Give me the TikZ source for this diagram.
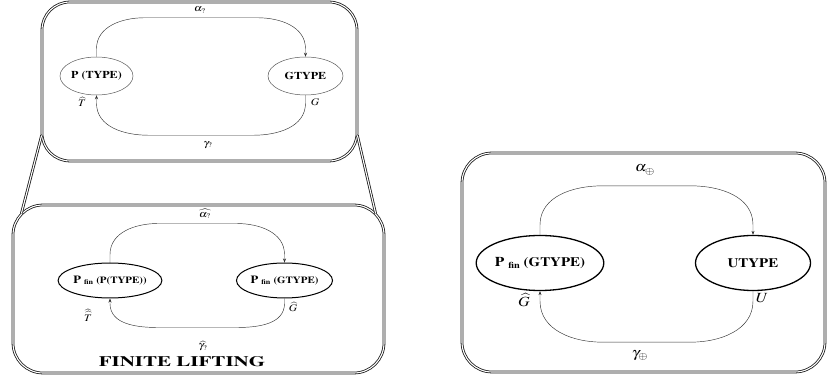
\documentclass[tikz,border=0pt]{standalone}
\usepackage[T1]{fontenc}
\usepackage{mathptmx}
\usepackage{graphicx}
\usetikzlibrary{arrows.meta,shapes.geometric,calc}
\newcommand{\hs}[2][1.15]{\scalebox{#1}[1]{#2}}
\newcommand{\fs}[1]{\fontsize{#1}{#1}\selectfont}
\begin{document}
\begin{tikzpicture}[x=1pt,y=1pt,
  framebox/.style={draw=black!90, double=white, double distance=1.1pt, line width=0.8pt, rounded corners=#1, inner sep=0pt},
  framebox/.default=28pt,
  link/.style={draw=black!90, double=white, double distance=1.1pt, line width=0.8pt},
  stA/.style={ellipse, draw=black!65, line width=0.5pt, inner sep=0pt},
  stB/.style={ellipse, draw=black, line width=1pt, inner sep=0pt},
  stC/.style={ellipse, draw=black, line width=1.3pt, inner sep=0pt},
  conn/.style={draw=black!80, line width=0.45pt, -{Stealth[length=4pt,width=3pt]}},
  lbl/.style={inner sep=0pt}
]
\useasboundingbox (0,0) rectangle (827,377);

% frames
\node[framebox, minimum width=315pt, minimum height=159pt] (topbox) at (199.5,295.5) {};
\node[framebox=30pt, minimum width=371pt, minimum height=168pt] (botbox) at (198.5,88) {};
\node[framebox=30pt, minimum width=363pt, minimum height=219pt] (rbox) at (643.5,114.5) {};

\coordinate (tl) at ($(topbox.south west)+(0,26)$);
\coordinate (tr) at ($(topbox.south east)+(0,26)$);
\coordinate (bl) at ($(botbox.north west)+(8.8,-8.8)$);
\coordinate (br) at ($(botbox.north east)+(-8.8,-8.8)$);
\draw[link] (tl) -- (bl);
\draw[link] (tr) -- (br);

% top box
\node[stA, minimum width=73pt, minimum height=38pt] (pt) at (96.5,301) {\hs{\fs{10.5}\bfseries P (TYPE)}};
\node[stA, minimum width=75pt, minimum height=38pt] (gt) at (305.5,301) {\hs{\fs{10.5}\bfseries GTYPE}};
\draw[conn] (pt.north) -- ++(0,8) to[out=90,in=180] ($(pt.north)+(48,39)$)
  -- ($(gt.north)+(-48,39)$) to[out=0,in=90] ($(gt.north)+(0,8)$) -- (gt.north);
\draw[conn] (gt.south) -- ++(0,-8) to[out=-90,in=0] ($(gt.south)+(-52,-40)$)
  -- ($(pt.south)+(52,-40)$) to[out=180,in=-90] ($(pt.south)+(0,-8)$) -- (pt.south);
\node[lbl] (a1) at (200,367) {\hs{\fs{10}$\alpha_?$}};
\node[lbl] (g1) at (208,232) {\hs{\fs{10}$\gamma_?$}};
\node[lbl] (t1) at (82,275) {\hs{\fs{10}$\widehat{T}$}};
\node[lbl] (gg1) at (315,275) {\hs{\fs{10}$G$}};

% bottom-left box
\node[stB, minimum width=96pt, minimum height=35pt] (pfp) at (110,96.5)
  {\hs{\bfseries\fs{11}P \raisebox{-1.5pt}{\fs{7}fin} \fs{9.5}(P(TYPE))}};
\node[stB, minimum width=95pt, minimum height=35pt] (pfg) at (284.5,96.5)
  {\hs{\bfseries\fs{11}P \raisebox{-1.5pt}{\fs{7}fin} \fs{9.5}(GTYPE)}};
\draw[conn] (pfp.north) -- ++(0,8) to[out=90,in=180] ($(pfp.north)+(48,39)$)
  -- ($(pfg.north)+(-48,39)$) to[out=0,in=90] ($(pfg.north)+(0,8)$) -- (pfg.north);
\draw[conn] (pfg.south) -- ++(0,-5) to[out=-90,in=0] ($(pfg.south)+(-48,-29)$)
  -- ($(pfp.south)+(48,-29)$) to[out=180,in=-90] ($(pfp.south)+(0,-5)$) -- (pfp.south);
\node[lbl] (a2) at (205,163) {\hs{\fs{10}$\widehat{\alpha_?}$}};
\node[lbl] (g2) at (203,31) {\hs{\fs{10}$\widehat{\gamma_?}$}};
\node[lbl] (t2) at (88,62) {\hs{\fs{10}$\widehat{\widehat{T}}$}};
\node[lbl] (gg2) at (293,70) {\hs{\fs{10}$\widehat{G}$}};
\node[lbl] (fl) at (182,15) {\hs[1.45]{\fs{14.5}\bfseries FINITE LIFTING}};

% right box
\node[stC, minimum width=112pt, minimum height=55pt] (pg) at (540,114)
  {\hs{\bfseries\fs{13.5}P \raisebox{-2pt}{\fs{9}fin} \fs{13}(GTYPE)}};
\node[stC, minimum width=115pt, minimum height=55pt] (ut) at (753,114)
  {\hs{\bfseries\fs{13}UTYPE}};
\draw[conn] (pg.north) -- ++(0,10) to[out=90,in=180] ($(pg.north)+(62,49)$)
  -- ($(ut.north)+(-62,49)$) to[out=0,in=90] ($(ut.north)+(0,10)$) -- (ut.north);
\draw[conn] (ut.south) -- ++(0,-10) to[out=-90,in=0] ($(ut.south)+(-62,-51)$)
  -- ($(pg.south)+(62,-51)$) to[out=180,in=-90] ($(pg.south)+(0,-10)$) -- (pg.south);
\node[lbl] (a3) at (645,207) {\hs{\fs{14}$\alpha_\oplus$}};
\node[lbl] (g3) at (640,21) {\hs{\fs{14}$\gamma_\oplus$}};
\node[lbl] (gg3) at (524,77) {\hs{\fs{14}$\widehat{G}$}};
\node[lbl] (u3) at (762,79) {\hs{\fs{14}$U$}};
\end{tikzpicture}
\end{document}
